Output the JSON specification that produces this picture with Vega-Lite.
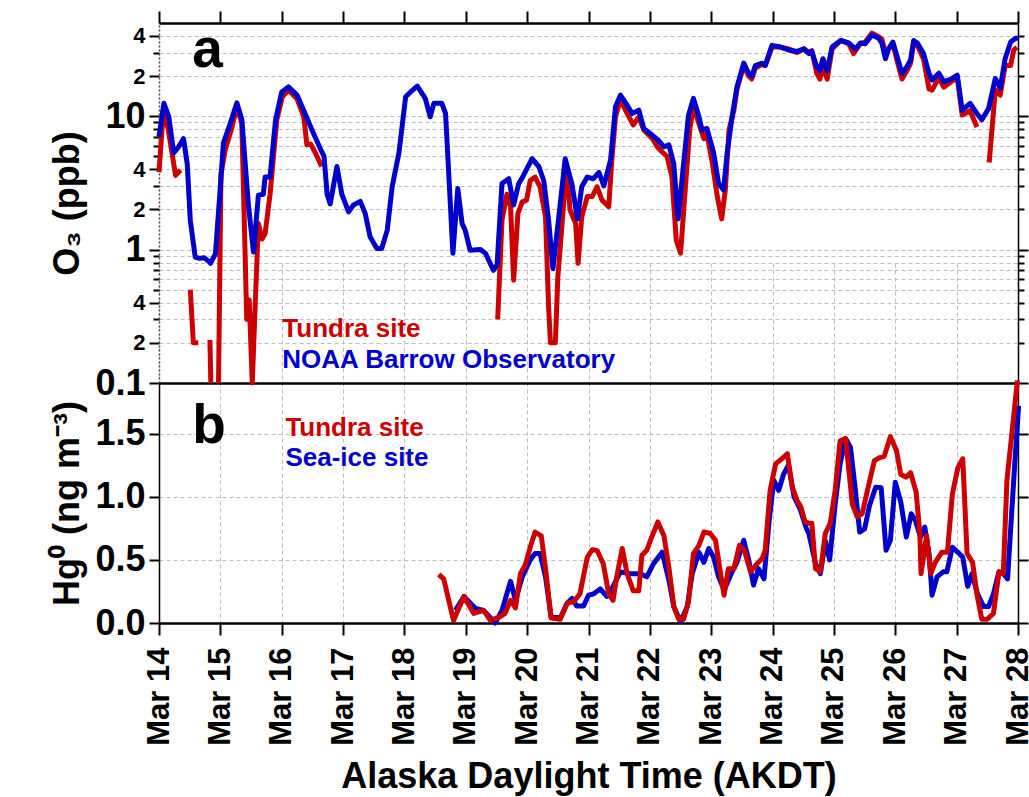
{
  "$schema": "https://vega.github.io/schema/vega-lite/v6.json",
  "autosize": {"type": "none"},
  "width": 859,
  "height": 600,
  "padding": {"left": 159, "top": 23, "right": 11, "bottom": 174},
  "background": "white",
  "config": {
    "view": {"stroke": null},
    "font": "Liberation Sans",
    "axis": {
      "labelFont": "Liberation Sans", "labelFontWeight": "bold", "labelColor": "black",
      "titleFont": "Liberation Sans", "titleFontWeight": "bold", "titleColor": "black",
      "tickColor": "black", "domainColor": "black",
      "gridColor": "#bdbdbd", "gridDash": [4, 3], "gridWidth": 1,
      "labelOverlap": false, "labelFlush": false
    }
  },
  "datasets": {
    "o3_tundra": [
      {"t": 14.0, "v": 3.8}, {"t": 14.07, "v": 11}, {"t": 14.15, "v": 8}, {"t": 14.27, "v": 3.6}, {"t": 14.35, "v": 3.95}, {"t": 14.42, "v": null},
      {"t": 14.51, "v": 0.5}, {"t": 14.56, "v": 0.2}, {"t": 14.64, "v": 0.2}, {"t": 14.72, "v": null},
      {"t": 14.83, "v": 0.21}, {"t": 14.845, "v": 0.1}, {"t": 14.9, "v": null},
      {"t": 14.97, "v": 0.1}, {"t": 15.01, "v": 3.7}, {"t": 15.08, "v": 5.6}, {"t": 15.19, "v": 8.3}, {"t": 15.27, "v": 11.8}, {"t": 15.35, "v": 8.8},
      {"t": 15.43, "v": 0.3}, {"t": 15.47, "v": 0.42}, {"t": 15.52, "v": 0.1}, {"t": 15.57, "v": 0.41}, {"t": 15.62, "v": 1.57}, {"t": 15.68, "v": 1.2},
      {"t": 15.73, "v": 1.32}, {"t": 15.81, "v": 2.6}, {"t": 15.92, "v": 9.4}, {"t": 16.01, "v": 14}, {"t": 16.11, "v": 15.7}, {"t": 16.25, "v": 13.5},
      {"t": 16.36, "v": 9.9}, {"t": 16.41, "v": 6.1}, {"t": 16.47, "v": 6.2}, {"t": 16.55, "v": 5.3}, {"t": 16.65, "v": 4.2}, {"t": 16.7, "v": null},
      {"t": 19.52, "v": 0.3}, {"t": 19.59, "v": 1.66}, {"t": 19.67, "v": 2.6}, {"t": 19.73, "v": 2.1}, {"t": 19.78, "v": 0.59}, {"t": 19.85, "v": 1.87},
      {"t": 19.92, "v": 2.28}, {"t": 19.99, "v": 2.35}, {"t": 20.05, "v": 3.3}, {"t": 20.13, "v": 3.5}, {"t": 20.21, "v": 2.96}, {"t": 20.3, "v": 1.76},
      {"t": 20.35, "v": 0.37}, {"t": 20.38, "v": 0.2}, {"t": 20.46, "v": 0.2}, {"t": 20.5, "v": 0.62}, {"t": 20.57, "v": 1.57}, {"t": 20.64, "v": 4.2},
      {"t": 20.7, "v": 1.98}, {"t": 20.79, "v": 1.57}, {"t": 20.83, "v": 0.79}, {"t": 20.89, "v": 1.76}, {"t": 20.98, "v": 2.5}, {"t": 21.06, "v": 2.5},
      {"t": 21.14, "v": 2.96}, {"t": 21.22, "v": 2.35}, {"t": 21.33, "v": 2.1}, {"t": 21.38, "v": 4.7}, {"t": 21.44, "v": 9.9}, {"t": 21.52, "v": 13.2},
      {"t": 21.63, "v": 10.5}, {"t": 21.73, "v": 8.6}, {"t": 21.82, "v": 9.9}, {"t": 21.9, "v": 7.9}, {"t": 22.04, "v": 6.8}, {"t": 22.12, "v": 5.9},
      {"t": 22.2, "v": 5.4}, {"t": 22.28, "v": 5.0}, {"t": 22.36, "v": 3.5}, {"t": 22.43, "v": 1.18}, {"t": 22.5, "v": 0.94}, {"t": 22.58, "v": 2.96},
      {"t": 22.65, "v": 7.9}, {"t": 22.71, "v": 11.8}, {"t": 22.8, "v": 8.8}, {"t": 22.88, "v": 6.8}, {"t": 22.93, "v": 7.4}, {"t": 23.01, "v": 4.7},
      {"t": 23.1, "v": 2.5}, {"t": 23.17, "v": 1.7}, {"t": 23.23, "v": 2.8}, {"t": 23.29, "v": 7.9}, {"t": 23.37, "v": 11.1}, {"t": 23.42, "v": 16},
      {"t": 23.53, "v": 24}, {"t": 23.61, "v": 20}, {"t": 23.66, "v": 19}, {"t": 23.72, "v": 23}, {"t": 23.83, "v": 24.5}, {"t": 23.88, "v": 24},
      {"t": 23.99, "v": 33}, {"t": 24.13, "v": 33}, {"t": 24.26, "v": 32}, {"t": 24.4, "v": 30}, {"t": 24.51, "v": 32}, {"t": 24.59, "v": 30},
      {"t": 24.64, "v": 31}, {"t": 24.72, "v": 21}, {"t": 24.77, "v": 19}, {"t": 24.82, "v": 23}, {"t": 24.89, "v": 19}, {"t": 24.97, "v": 32},
      {"t": 25.11, "v": 37}, {"t": 25.24, "v": 35}, {"t": 25.32, "v": 29.5}, {"t": 25.43, "v": 35}, {"t": 25.51, "v": 36}, {"t": 25.62, "v": 42},
      {"t": 25.73, "v": 39.5}, {"t": 25.78, "v": 38}, {"t": 25.84, "v": 30}, {"t": 25.89, "v": 32}, {"t": 25.96, "v": 35}, {"t": 26.03, "v": 26},
      {"t": 26.11, "v": 19}, {"t": 26.19, "v": 22}, {"t": 26.25, "v": 25}, {"t": 26.3, "v": 36}, {"t": 26.36, "v": 34}, {"t": 26.46, "v": 27},
      {"t": 26.55, "v": 16}, {"t": 26.6, "v": 15.7}, {"t": 26.71, "v": 19.5}, {"t": 26.79, "v": 16.5}, {"t": 26.9, "v": 18}, {"t": 27.01, "v": 19.5},
      {"t": 27.09, "v": 10.2}, {"t": 27.22, "v": 11}, {"t": 27.33, "v": 8.3}, {"t": 27.42, "v": null},
      {"t": 27.53, "v": 4.5}, {"t": 27.63, "v": 15.7}, {"t": 27.71, "v": 14.4}, {"t": 27.79, "v": 24}, {"t": 27.88, "v": 24}, {"t": 27.93, "v": 31.4}, {"t": 27.98, "v": 33}
    ],
    "o3_barrow": [
      {"t": 14.0, "v": 7.0}, {"t": 14.08, "v": 12.5}, {"t": 14.16, "v": 9.9}, {"t": 14.24, "v": 5.3}, {"t": 14.32, "v": 5.9}, {"t": 14.4, "v": 6.8},
      {"t": 14.46, "v": 4.4}, {"t": 14.51, "v": 1.66}, {"t": 14.59, "v": 0.88}, {"t": 14.66, "v": 0.86}, {"t": 14.73, "v": 0.87}, {"t": 14.78, "v": 0.84},
      {"t": 14.84, "v": 0.79}, {"t": 14.92, "v": 0.93}, {"t": 15.0, "v": 2.96}, {"t": 15.05, "v": 6.3}, {"t": 15.16, "v": 8.8}, {"t": 15.27, "v": 12.6},
      {"t": 15.35, "v": 9.4}, {"t": 15.46, "v": 2.1}, {"t": 15.54, "v": 0.96}, {"t": 15.62, "v": 2.56}, {"t": 15.7, "v": 2.6}, {"t": 15.73, "v": 3.5},
      {"t": 15.81, "v": 3.5}, {"t": 15.9, "v": 9.4}, {"t": 16.0, "v": 15.2}, {"t": 16.11, "v": 16.6}, {"t": 16.25, "v": 14.4}, {"t": 16.39, "v": 10.2},
      {"t": 16.52, "v": 7.4}, {"t": 16.63, "v": 5.7}, {"t": 16.69, "v": 5.0}, {"t": 16.74, "v": 2.6}, {"t": 16.79, "v": 2.2}, {"t": 16.9, "v": 4.2},
      {"t": 16.98, "v": 2.6}, {"t": 17.09, "v": 1.92}, {"t": 17.17, "v": 2.16}, {"t": 17.28, "v": 2.3}, {"t": 17.36, "v": 1.87}, {"t": 17.44, "v": 1.25},
      {"t": 17.55, "v": 1.02}, {"t": 17.63, "v": 1.02}, {"t": 17.72, "v": 1.4}, {"t": 17.8, "v": 2.96}, {"t": 17.91, "v": 5.3}, {"t": 18.02, "v": 14.0},
      {"t": 18.1, "v": 15.2}, {"t": 18.21, "v": 16.8}, {"t": 18.34, "v": 13.6}, {"t": 18.42, "v": 9.9}, {"t": 18.48, "v": 12.5}, {"t": 18.61, "v": 12.5},
      {"t": 18.67, "v": 10.5}, {"t": 18.72, "v": 3.9}, {"t": 18.79, "v": 0.94}, {"t": 18.87, "v": 2.87}, {"t": 18.94, "v": 1.57}, {"t": 18.99, "v": 1.4},
      {"t": 19.07, "v": 0.99}, {"t": 19.24, "v": 1.0}, {"t": 19.32, "v": 0.94}, {"t": 19.45, "v": 0.7}, {"t": 19.51, "v": 0.77}, {"t": 19.59, "v": 3.13},
      {"t": 19.7, "v": 3.4}, {"t": 19.78, "v": 2.16}, {"t": 19.86, "v": 3.1}, {"t": 19.94, "v": 3.6}, {"t": 20.08, "v": 4.8}, {"t": 20.19, "v": 4.2},
      {"t": 20.27, "v": 3.3}, {"t": 20.35, "v": 1.66}, {"t": 20.42, "v": 0.72}, {"t": 20.51, "v": 1.66}, {"t": 20.62, "v": 4.8}, {"t": 20.73, "v": 3.1},
      {"t": 20.82, "v": 1.7}, {"t": 20.89, "v": 2.96}, {"t": 20.98, "v": 3.5}, {"t": 21.08, "v": 3.4}, {"t": 21.17, "v": 3.8}, {"t": 21.25, "v": 3.0},
      {"t": 21.36, "v": 4.7}, {"t": 21.44, "v": 11.8}, {"t": 21.52, "v": 14.4}, {"t": 21.63, "v": 12.1}, {"t": 21.71, "v": 10.5}, {"t": 21.82, "v": 11.1},
      {"t": 21.9, "v": 8.1}, {"t": 22.01, "v": 7.4}, {"t": 22.14, "v": 6.6}, {"t": 22.23, "v": 5.9}, {"t": 22.31, "v": 6.1}, {"t": 22.39, "v": 4.4},
      {"t": 22.46, "v": 1.7}, {"t": 22.55, "v": 4.4}, {"t": 22.63, "v": 10.2}, {"t": 22.71, "v": 13.6}, {"t": 22.8, "v": 9.9}, {"t": 22.85, "v": 7.9},
      {"t": 22.93, "v": 8.1}, {"t": 23.04, "v": 5.3}, {"t": 23.12, "v": 3.13}, {"t": 23.2, "v": 2.8}, {"t": 23.26, "v": 5.3}, {"t": 23.34, "v": 9.9},
      {"t": 23.42, "v": 16.6}, {"t": 23.53, "v": 25}, {"t": 23.61, "v": 21}, {"t": 23.66, "v": 19.9}, {"t": 23.72, "v": 24}, {"t": 23.83, "v": 25},
      {"t": 23.88, "v": 24}, {"t": 23.99, "v": 34}, {"t": 24.13, "v": 33}, {"t": 24.26, "v": 31.4}, {"t": 24.4, "v": 30.6}, {"t": 24.51, "v": 32},
      {"t": 24.59, "v": 29.5}, {"t": 24.64, "v": 30.6}, {"t": 24.72, "v": 23.5}, {"t": 24.77, "v": 22}, {"t": 24.82, "v": 27}, {"t": 24.89, "v": 22},
      {"t": 24.97, "v": 33}, {"t": 25.11, "v": 37}, {"t": 25.24, "v": 35.4}, {"t": 25.35, "v": 32}, {"t": 25.43, "v": 35.4}, {"t": 25.51, "v": 35},
      {"t": 25.62, "v": 40.6}, {"t": 25.73, "v": 38.4}, {"t": 25.78, "v": 35.4}, {"t": 25.84, "v": 27}, {"t": 25.89, "v": 32}, {"t": 25.96, "v": 36},
      {"t": 26.03, "v": 28}, {"t": 26.11, "v": 21}, {"t": 26.19, "v": 23.5}, {"t": 26.25, "v": 26.4}, {"t": 26.3, "v": 37}, {"t": 26.36, "v": 35.4},
      {"t": 26.46, "v": 29.5}, {"t": 26.55, "v": 21}, {"t": 26.6, "v": 18.7}, {"t": 26.71, "v": 21}, {"t": 26.79, "v": 18.2}, {"t": 26.9, "v": 18.9},
      {"t": 27.01, "v": 20.3}, {"t": 27.09, "v": 11.1}, {"t": 27.22, "v": 12.5}, {"t": 27.33, "v": 10.5}, {"t": 27.41, "v": 9.4}, {"t": 27.52, "v": 11.4},
      {"t": 27.63, "v": 19.2}, {"t": 27.71, "v": 16.2}, {"t": 27.79, "v": 27}, {"t": 27.88, "v": 36}, {"t": 27.96, "v": 38.4}, {"t": 28.01, "v": 38.4}
    ],
    "hg_tundra": [
      {"t": 18.56, "v": 0.384}, {"t": 18.64, "v": 0.35}, {"t": 18.8, "v": 0.02}, {"t": 18.97, "v": 0.21}, {"t": 19.13, "v": 0.076}, {"t": 19.29, "v": 0.1},
      {"t": 19.4, "v": 0.02}, {"t": 19.56, "v": 0.05}, {"t": 19.64, "v": 0.076}, {"t": 19.73, "v": 0.18}, {"t": 19.81, "v": 0.12}, {"t": 19.89, "v": 0.39},
      {"t": 19.97, "v": 0.46}, {"t": 20.05, "v": 0.6}, {"t": 20.13, "v": 0.72}, {"t": 20.23, "v": 0.69}, {"t": 20.31, "v": 0.39}, {"t": 20.39, "v": 0.04},
      {"t": 20.54, "v": 0.03}, {"t": 20.65, "v": 0.155}, {"t": 20.76, "v": 0.17}, {"t": 20.86, "v": 0.23}, {"t": 20.98, "v": 0.52}, {"t": 21.06, "v": 0.58},
      {"t": 21.14, "v": 0.575}, {"t": 21.24, "v": 0.47}, {"t": 21.33, "v": 0.23}, {"t": 21.4, "v": 0.18}, {"t": 21.46, "v": 0.365}, {"t": 21.55, "v": 0.59},
      {"t": 21.63, "v": 0.39}, {"t": 21.73, "v": 0.255}, {"t": 21.82, "v": 0.255}, {"t": 21.87, "v": 0.536}, {"t": 21.95, "v": 0.576}, {"t": 22.03, "v": 0.68},
      {"t": 22.13, "v": 0.8}, {"t": 22.23, "v": 0.69}, {"t": 22.31, "v": 0.44}, {"t": 22.39, "v": 0.13}, {"t": 22.47, "v": 0.03}, {"t": 22.55, "v": 0.03},
      {"t": 22.63, "v": 0.17}, {"t": 22.71, "v": 0.55}, {"t": 22.8, "v": 0.615}, {"t": 22.88, "v": 0.72}, {"t": 22.98, "v": 0.71}, {"t": 23.07, "v": 0.655},
      {"t": 23.15, "v": 0.4}, {"t": 23.21, "v": 0.22}, {"t": 23.28, "v": 0.43}, {"t": 23.37, "v": 0.43}, {"t": 23.46, "v": 0.615}, {"t": 23.54, "v": 0.575},
      {"t": 23.64, "v": 0.405}, {"t": 23.75, "v": 0.47}, {"t": 23.83, "v": 0.51}, {"t": 23.88, "v": 0.576}, {"t": 23.96, "v": 1.05}, {"t": 24.05, "v": 1.26},
      {"t": 24.15, "v": 1.3}, {"t": 24.24, "v": 1.34}, {"t": 24.32, "v": 1.075}, {"t": 24.4, "v": 0.97}, {"t": 24.46, "v": 0.92}, {"t": 24.53, "v": 0.8},
      {"t": 24.59, "v": 0.79}, {"t": 24.64, "v": 0.79}, {"t": 24.7, "v": 0.43}, {"t": 24.78, "v": 0.405}, {"t": 24.86, "v": 0.71}, {"t": 24.94, "v": 0.79},
      {"t": 25.02, "v": 1.05}, {"t": 25.1, "v": 1.44}, {"t": 25.19, "v": 1.46}, {"t": 25.3, "v": 0.94}, {"t": 25.38, "v": 0.84}, {"t": 25.46, "v": 0.865},
      {"t": 25.57, "v": 1.1}, {"t": 25.66, "v": 1.285}, {"t": 25.75, "v": 1.31}, {"t": 25.82, "v": 1.32}, {"t": 25.92, "v": 1.475}, {"t": 26.02, "v": 1.365},
      {"t": 26.09, "v": 1.175}, {"t": 26.18, "v": 1.155}, {"t": 26.25, "v": 1.19}, {"t": 26.34, "v": 1.035}, {"t": 26.4, "v": 0.71}, {"t": 26.42, "v": 0.39},
      {"t": 26.51, "v": 0.69}, {"t": 26.58, "v": 0.39}, {"t": 26.65, "v": 0.48}, {"t": 26.76, "v": 0.56}, {"t": 26.85, "v": 0.56}, {"t": 26.93, "v": 1.02},
      {"t": 27.02, "v": 1.23}, {"t": 27.1, "v": 1.3}, {"t": 27.17, "v": 0.55}, {"t": 27.26, "v": 0.48}, {"t": 27.33, "v": 0.23}, {"t": 27.41, "v": 0.03},
      {"t": 27.5, "v": 0.03}, {"t": 27.6, "v": 0.076}, {"t": 27.69, "v": 0.405}, {"t": 27.76, "v": 0.39}, {"t": 27.82, "v": 1.13}, {"t": 27.9, "v": 1.5},
      {"t": 27.99, "v": 1.92}
    ],
    "hg_seaice": [
      {"t": 18.83, "v": 0.1}, {"t": 18.97, "v": 0.21}, {"t": 19.16, "v": 0.115}, {"t": 19.29, "v": 0.1}, {"t": 19.48, "v": 0.0}, {"t": 19.59, "v": 0.1},
      {"t": 19.73, "v": 0.33}, {"t": 19.81, "v": 0.18}, {"t": 19.92, "v": 0.365}, {"t": 20.05, "v": 0.5}, {"t": 20.13, "v": 0.55}, {"t": 20.21, "v": 0.55},
      {"t": 20.3, "v": 0.365}, {"t": 20.39, "v": 0.05}, {"t": 20.54, "v": 0.04}, {"t": 20.65, "v": 0.155}, {"t": 20.73, "v": 0.195}, {"t": 20.81, "v": 0.134},
      {"t": 20.92, "v": 0.134}, {"t": 21.0, "v": 0.22}, {"t": 21.08, "v": 0.23}, {"t": 21.19, "v": 0.27}, {"t": 21.3, "v": 0.21}, {"t": 21.38, "v": 0.27},
      {"t": 21.52, "v": 0.405}, {"t": 21.68, "v": 0.39}, {"t": 21.85, "v": 0.39}, {"t": 21.95, "v": 0.365}, {"t": 22.06, "v": 0.47}, {"t": 22.2, "v": 0.56},
      {"t": 22.31, "v": 0.34}, {"t": 22.39, "v": 0.13}, {"t": 22.5, "v": 0.01}, {"t": 22.61, "v": 0.13}, {"t": 22.69, "v": 0.39}, {"t": 22.8, "v": 0.56},
      {"t": 22.88, "v": 0.48}, {"t": 22.96, "v": 0.59}, {"t": 23.04, "v": 0.52}, {"t": 23.12, "v": 0.365}, {"t": 23.21, "v": 0.26}, {"t": 23.34, "v": 0.405},
      {"t": 23.42, "v": 0.48}, {"t": 23.53, "v": 0.655}, {"t": 23.61, "v": 0.5}, {"t": 23.69, "v": 0.3}, {"t": 23.77, "v": 0.43}, {"t": 23.86, "v": 0.35},
      {"t": 23.94, "v": 0.79}, {"t": 24.02, "v": 1.13}, {"t": 24.1, "v": 1.05}, {"t": 24.18, "v": 1.18}, {"t": 24.26, "v": 1.25}, {"t": 24.35, "v": 1.0},
      {"t": 24.45, "v": 0.9}, {"t": 24.55, "v": 0.75}, {"t": 24.59, "v": 0.71}, {"t": 24.7, "v": 0.47}, {"t": 24.78, "v": 0.39}, {"t": 24.86, "v": 0.65},
      {"t": 24.93, "v": 0.5}, {"t": 25.02, "v": 0.94}, {"t": 25.1, "v": 1.26}, {"t": 25.19, "v": 1.46}, {"t": 25.27, "v": 1.39}, {"t": 25.35, "v": 1.05},
      {"t": 25.42, "v": 0.72}, {"t": 25.5, "v": 0.745}, {"t": 25.58, "v": 0.93}, {"t": 25.68, "v": 1.075}, {"t": 25.77, "v": 1.07}, {"t": 25.85, "v": 0.575},
      {"t": 25.92, "v": 0.655}, {"t": 26.0, "v": 1.115}, {"t": 26.09, "v": 0.957}, {"t": 26.18, "v": 0.68}, {"t": 26.26, "v": 0.865}, {"t": 26.33, "v": 0.81},
      {"t": 26.41, "v": 0.68}, {"t": 26.48, "v": 0.76}, {"t": 26.55, "v": 0.55}, {"t": 26.6, "v": 0.22}, {"t": 26.68, "v": 0.365}, {"t": 26.78, "v": 0.405},
      {"t": 26.84, "v": 0.405}, {"t": 26.93, "v": 0.6}, {"t": 27.02, "v": 0.56}, {"t": 27.1, "v": 0.52}, {"t": 27.18, "v": 0.29}, {"t": 27.25, "v": 0.39},
      {"t": 27.34, "v": 0.23}, {"t": 27.44, "v": 0.13}, {"t": 27.52, "v": 0.13}, {"t": 27.6, "v": 0.23}, {"t": 27.69, "v": 0.405}, {"t": 27.76, "v": 0.39},
      {"t": 27.83, "v": 0.35}, {"t": 27.93, "v": 1.13}, {"t": 28.01, "v": 1.72}
    ],
    "top_labels": [
      {"t": 14.54, "v": 23.4, "label": "a", "site": "panel"},
      {"t": 16.01, "v": 0.221, "label": "Tundra site", "site": "Tundra"},
      {"t": 16.01, "v": 0.129, "label": "NOAA Barrow Observatory", "site": "Barrow"}
    ],
    "bottom_labels": [
      {"t": 14.54, "v": 1.425, "label": "b", "site": "panel"},
      {"t": 16.06, "v": 1.483, "label": "Tundra site", "site": "Tundra"},
      {"t": 16.06, "v": 1.246, "label": "Sea-ice site", "site": "SeaIce"}
    ]
  },
  "layer": [
    {
      "data": {"name": "o3_tundra"},
      "mark": {"type": "line", "color": "#CC0000", "strokeWidth": 5, "strokeJoin": "round", "invalid": "break-paths-filter-domains"},
      "encoding": {
        "x": {"field": "t", "type": "quantitative",
          "scale": {"domain": [14, 28], "nice": false, "zero": false},
          "axis": {"orient": "top", "values": [14,15,16,17,18,19,20,21,22,23,24,25,26,27,28], "labels": false,
            "tickSize": 12, "tickWidth": 2, "domainWidth": 2.5, "grid": false, "title": null}},
        "y": {"field": "v", "type": "quantitative",
          "scale": {"type": "log", "domain": [0.1, 50], "range": [360, 0], "nice": false},
          "axis": {"orient": "left",
            "values": [0.1,0.2,0.3,0.4,0.5,0.6,0.7,0.8,0.9,1,2,3,4,5,6,7,8,9,10,20,30,40],
            "labelExpr": "datum.value == 0.1 ? '0.1' : datum.value == 1 ? '1' : datum.value == 10 ? '10' : (datum.value == 0.2 || datum.value == 2 || datum.value == 20) ? '2' : (datum.value == 0.4 || datum.value == 4 || datum.value == 40) ? '4' : ''",
            "labelFontSize": {"condition": {"test": "datum.value == 0.1 || datum.value == 1 || datum.value == 10", "value": 36}, "value": 22},
            "tickSize": {"condition": {"test": "indexof([0.1,0.2,0.4,1,2,4,10,20,40], datum.value) >= 0", "value": 10}, "value": 6},
            "tickWidth": 2, "labelPadding": 4,
            "grid": true,
            "domainDash": [2, 2], "domainColor": "#444444", "domainWidth": 1.5,
            "title": "O₃ (ppb)", "titleFontSize": 36, "titleX": -81, "titleY": 180, "titleBaseline": "alphabetic", "titleAngle": 270}}
      }
    },
    {
      "data": {"name": "o3_barrow"},
      "mark": {"type": "line", "color": "#0000CC", "strokeWidth": 5, "strokeJoin": "round", "invalid": "break-paths-filter-domains"},
      "encoding": {
        "x": {"field": "t", "type": "quantitative",
          "axis": {"orient": "bottom", "values": [14,15,16,17,18,19,20,21,22,23,24,25,26,27,28],
            "labelExpr": "'Mar ' + datum.value", "labelAngle": -90, "labelFontSize": 31, "labelPadding": 12,
            "tickSize": 12, "tickWidth": 2, "domainWidth": 2.5, "grid": true,
            "title": "Alaska Daylight Time (AKDT)", "titleFontSize": 36, "titleX": 429.5, "titleY": 164, "titleBaseline": "alphabetic", "titleAlign": "center"}},
        "y": {"field": "v", "type": "quantitative",
          "scale": {"type": "log", "domain": [0.1, 50], "range": [360, 0], "nice": false},
          "axis": {"orient": "right",
            "values": [0.1,0.2,0.3,0.4,0.5,0.6,0.7,0.8,0.9,1,2,3,4,5,6,7,8,9,10,20,30,40],
            "labels": false, "grid": false, "title": null,
            "tickSize": {"condition": {"test": "indexof([0.1,1,10], datum.value) >= 0", "value": 10}, "value": 6},
            "tickWidth": 2, "domainWidth": 1.5}}
      }
    },
    {
      "data": {"name": "top_labels"},
      "transform": [{"filter": "datum.site == 'panel'"}],
      "mark": {"type": "text", "align": "left", "baseline": "alphabetic", "font": "Liberation Sans", "fontWeight": "bold", "fontSize": 55, "color": "black"},
      "encoding": {
        "x": {"field": "t", "type": "quantitative", "axis": null},
        "y": {"field": "v", "type": "quantitative", "scale": {"type": "log", "domain": [0.1, 50], "range": [360, 0], "nice": false}, "axis": null},
        "text": {"field": "label"}
      }
    },
    {
      "data": {"name": "top_labels"},
      "transform": [{"filter": "datum.site == 'Tundra'"}],
      "mark": {"type": "text", "align": "left", "baseline": "alphabetic", "font": "Liberation Sans", "fontWeight": "bold", "fontSize": 26, "color": "#CC0000"},
      "encoding": {
        "x": {"field": "t", "type": "quantitative", "axis": null},
        "y": {"field": "v", "type": "quantitative", "scale": {"type": "log", "domain": [0.1, 50], "range": [360, 0], "nice": false}, "axis": null},
        "text": {"field": "label"}
      }
    },
    {
      "data": {"name": "top_labels"},
      "transform": [{"filter": "datum.site == 'Barrow'"}],
      "mark": {"type": "text", "align": "left", "baseline": "alphabetic", "font": "Liberation Sans", "fontWeight": "bold", "fontSize": 26, "color": "#0000CC"},
      "encoding": {
        "x": {"field": "t", "type": "quantitative", "axis": null},
        "y": {"field": "v", "type": "quantitative", "scale": {"type": "log", "domain": [0.1, 50], "range": [360, 0], "nice": false}, "axis": null},
        "text": {"field": "label"}
      }
    },
    {
      "data": {"name": "hg_seaice"},
      "mark": {"type": "line", "color": "#0000CC", "strokeWidth": 5, "strokeJoin": "round", "invalid": "break-paths-filter-domains"},
      "encoding": {
        "x": {"field": "t", "type": "quantitative", "axis": null},
        "y": {"field": "v", "type": "quantitative",
          "scale": {"domain": [0, 1.9], "range": [600, 360], "nice": false, "zero": false},
          "axis": {"orient": "left", "values": [0, 0.5, 1, 1.5, 1.9],
            "labelExpr": "datum.value == 1.9 ? '' : format(datum.value, '.1f')",
            "labelFontSize": 36, "labelPadding": 4,
            "tickSize": {"condition": {"test": "datum.value == 1.9", "value": 0}, "value": 10},
            "tickWidth": 2,
            "grid": true,
            "gridDash": {"condition": {"test": "datum.value == 1.9", "value": []}, "value": [4, 3]},
            "gridColor": {"condition": {"test": "datum.value == 1.9", "value": "black"}, "value": "#bdbdbd"},
            "gridWidth": {"condition": {"test": "datum.value == 1.9", "value": 2.5}, "value": 1},
            "domainWidth": 1.5,
            "title": "Hg⁰ (ng m⁻³)", "titleFontSize": 36, "titleX": -81, "titleY": 480, "titleBaseline": "alphabetic", "titleAngle": 270}}
      }
    },
    {
      "data": {"name": "hg_tundra"},
      "mark": {"type": "line", "color": "#CC0000", "strokeWidth": 5, "strokeJoin": "round", "invalid": "break-paths-filter-domains"},
      "encoding": {
        "x": {"field": "t", "type": "quantitative", "axis": null},
        "y": {"field": "v", "type": "quantitative",
          "scale": {"domain": [0, 1.9], "range": [600, 360], "nice": false, "zero": false},
          "axis": {"orient": "right", "values": [0, 0.5, 1, 1.5], "labels": false, "grid": false, "title": null,
            "tickSize": 10, "tickWidth": 2, "domainWidth": 1.5}}
      }
    },
    {
      "data": {"name": "bottom_labels"},
      "transform": [{"filter": "datum.site == 'panel'"}],
      "mark": {"type": "text", "align": "left", "baseline": "alphabetic", "font": "Liberation Sans", "fontWeight": "bold", "fontSize": 55, "color": "black"},
      "encoding": {
        "x": {"field": "t", "type": "quantitative", "axis": null},
        "y": {"field": "v", "type": "quantitative", "scale": {"domain": [0, 1.9], "range": [600, 360], "nice": false, "zero": false}, "axis": null},
        "text": {"field": "label"}
      }
    },
    {
      "data": {"name": "bottom_labels"},
      "transform": [{"filter": "datum.site == 'Tundra'"}],
      "mark": {"type": "text", "align": "left", "baseline": "alphabetic", "font": "Liberation Sans", "fontWeight": "bold", "fontSize": 26, "color": "#CC0000"},
      "encoding": {
        "x": {"field": "t", "type": "quantitative", "axis": null},
        "y": {"field": "v", "type": "quantitative", "scale": {"domain": [0, 1.9], "range": [600, 360], "nice": false, "zero": false}, "axis": null},
        "text": {"field": "label"}
      }
    },
    {
      "data": {"name": "bottom_labels"},
      "transform": [{"filter": "datum.site == 'SeaIce'"}],
      "mark": {"type": "text", "align": "left", "baseline": "alphabetic", "font": "Liberation Sans", "fontWeight": "bold", "fontSize": 26, "color": "#0000CC"},
      "encoding": {
        "x": {"field": "t", "type": "quantitative", "axis": null},
        "y": {"field": "v", "type": "quantitative", "scale": {"domain": [0, 1.9], "range": [600, 360], "nice": false, "zero": false}, "axis": null},
        "text": {"field": "label"}
      }
    }
  ],
  "resolve": {"scale": {"y": "independent"}, "axis": {"x": "independent", "y": "independent"}}
}
